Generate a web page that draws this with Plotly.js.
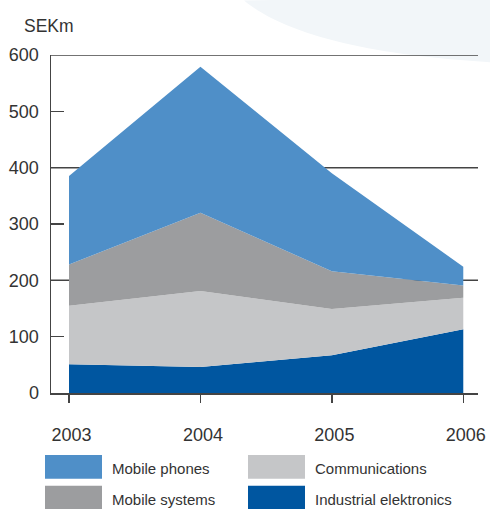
<!DOCTYPE html>
<html>
<head>
<meta charset="utf-8">
<script src="https://cdn.plot.ly/plotly-3.0.1.min.js"></script>
<style>html,body{margin:0;padding:0;background:#fff;}#chart{width:490px;height:509px;}</style>
</head>
<body>
<div id="chart"></div>
<script>
const years = [2003, 2004, 2005, 2006];
const yearLabels = ["2003", "2004", "2005", "2006"];
const industrialElektronics = [51, 46, 67, 113];
const communications = [104, 135, 82, 56];
const mobileSystems = [73, 139, 67, 22];
const mobilePhones = [157, 259, 174, 33];
const yTicks = [0, 100, 200, 300, 400, 500, 600];
const gridValues = [200, 400, 600];

const seriesNames = ["Industrial elektronics", "Communications", "Mobile systems", "Mobile phones"];
const seriesValues = [industrialElektronics, communications, mobileSystems, mobilePhones];
const colors = ["#0056a0", "#c5c6c8", "#9c9d9f", "#4f8fc8"];

const traces = seriesValues.map((v, i) => ({
  x: years, y: v, name: seriesNames[i], type: "scatter", mode: "lines",
  stackgroup: "one", fillcolor: colors[i], line: {width: 0, color: colors[i]},
  hoverinfo: "skip"
}));

// pixel -> paper helpers (plot area: x 51..478, y 54.5..393)
const L = 51, R = 478, T = 54.5, B = 393;
const px = v => (v - L) / (R - L);
const py = v => (B - v) / (B - T);

const shapes = [];
shapes.push({type: "path", xref: "paper", yref: "paper", layer: "below",
  path: `M ${px(244)},${py(0)} C ${px(290)},${py(38)} ${px(385)},${py(56)} ${px(495)},${py(62)} L ${px(495)},${py(-5)} Z`,
  fillcolor: "#f2f6f9", line: {width: 0}});
gridValues.forEach(g => shapes.push({type: "line", xref: "paper", yref: "y", layer: "below",
  x0: 0, x1: 1, y0: g, y1: g, line: {color: "#444", width: 1.5}}));

// legend (manual)
const legendItems = [
  {name: "Mobile phones", color: colors[3], col: 0, row: 0},
  {name: "Mobile systems", color: colors[2], col: 0, row: 1},
  {name: "Communications", color: colors[1], col: 1, row: 0},
  {name: "Industrial elektronics", color: colors[0], col: 1, row: 1}
];
const colX = [45, 248], rowY = [455, 486], swW = 57, swH = 24;
const annotations = [{text: "SEKm", xref: "paper", yref: "paper", x: px(22), y: py(25),
  xanchor: "left", yanchor: "middle", showarrow: false, font: {size: 17.5, color: "#333"}}];
legendItems.forEach(it => {
  const x0 = colX[it.col], y0 = rowY[it.row];
  shapes.push({type: "rect", xref: "paper", yref: "paper", x0: px(x0), x1: px(x0 + swW),
    y0: py(y0), y1: py(y0 + swH), fillcolor: it.color, line: {width: 0}});
  annotations.push({text: it.name, xref: "paper", yref: "paper", x: px(x0 + swW + 8),
    y: py(y0 + 14), xanchor: "left", yanchor: "middle", showarrow: false,
    font: {size: 15, color: "#333"}});
});

const layout = {
  width: 490, height: 509,
  margin: {l: L, r: 490 - R, t: T, b: 509 - B, pad: 0},
  paper_bgcolor: "#fff", plot_bgcolor: "rgba(0,0,0,0)",
  showlegend: false,
  font: {family: "Liberation Sans, Arial, sans-serif", color: "#333"},
  xaxis: {range: [2002.863, 2006.112], tickvals: years, ticktext: yearLabels.map(s => "\u00a0" + s),
    showgrid: false, zeroline: false, showline: true, linecolor: "#444", linewidth: 1.5,
    ticks: "outside", ticklen: 8, tickwidth: 1.5, tickcolor: "#444",
    tickfont: {size: 18, color: "#333"}, ticklabelstandoff: 17, fixedrange: true},
  yaxis: {range: [0, 600], tickvals: yTicks, ticktext: yTicks.map(String),
    showgrid: false, zeroline: false, showline: true, linecolor: "#444", linewidth: 1.5,
    ticks: "inside", ticklen: 13, tickwidth: 1.5, tickcolor: "#444",
    tickfont: {size: 18, color: "#333"}, ticklabelstandoff: 7, fixedrange: true},
  shapes: shapes,
  annotations: annotations
};

Plotly.newPlot("chart", traces, layout, {displayModeBar: false, staticPlot: true});
</script>
</body>
</html>
